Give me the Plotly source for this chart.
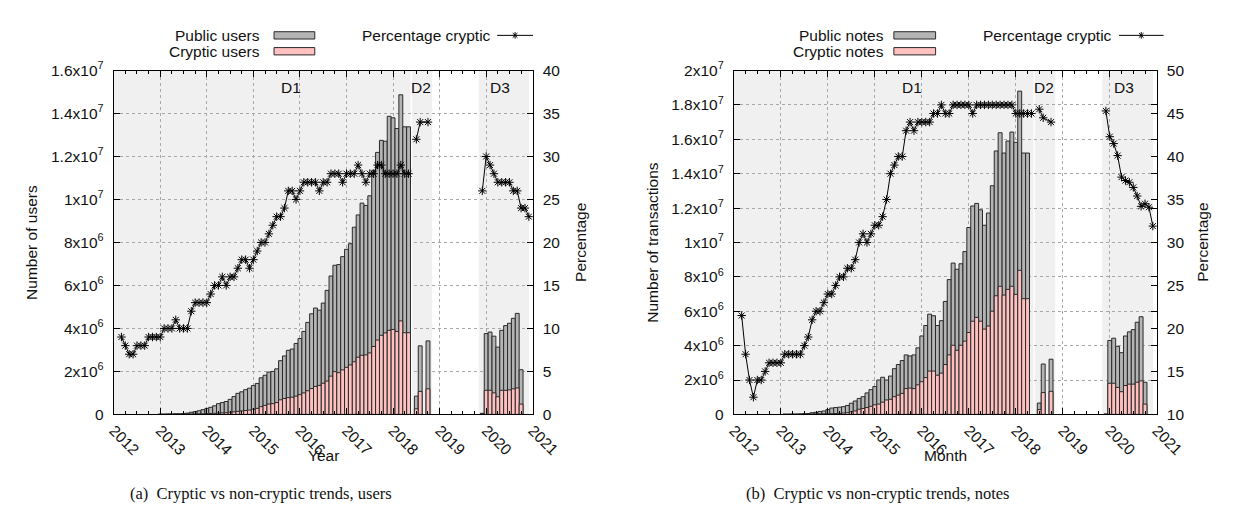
import plotly.graph_objects as go

W, H = 1235, 510

# ------------------------------------------------------------------ data
year_ticks = [2012, 2013, 2014, 2015, 2016, 2017, 2018, 2019, 2020, 2021]
year_labels = [str(y) for y in year_ticks]

# periods (decimal years) of the three collection windows
period_names = ["D1", "D2", "D3"]
period_start = [2012.0, 2018.41, 2019.84]
period_end = [2018.375, 2018.84, 2020.92]
period_label_x = [2015.8, 2018.6, 2020.3]

# ---- users (values in millions) ----
users_d1_start = "2013-01"
public_users_d1 = [0.01, 0.01, 0.02, 0.02, 0.03, 0.03,
                   0.04, 0.06, 0.10, 0.13, 0.17, 0.22, 0.28, 0.33, 0.40, 0.50,
                   0.55, 0.60, 0.70, 0.83, 0.98, 1.05, 1.15, 1.22, 1.34, 1.44,
                   1.70, 1.82, 1.97, 2.00, 2.12, 2.50, 2.72, 2.98, 3.04, 3.30,
                   3.53, 3.86, 4.28, 4.68, 4.95, 4.85, 5.18, 5.77, 6.44, 6.94,
                   6.97, 7.34, 7.68, 7.94, 8.71, 9.28, 9.83, 9.72, 10.17, 11.36,
                   12.19, 12.75, 12.71, 13.87, 13.80, 13.30, 14.87, 13.38, 13.38]
cryptic_users_d1 = [0.002, 0.002, 0.003, 0.003, 0.004, 0.004,
                    0.005, 0.008, 0.01, 0.015, 0.02, 0.025, 0.03, 0.04, 0.05, 0.06,
                    0.07, 0.08, 0.10, 0.12, 0.14, 0.16, 0.18, 0.20, 0.24, 0.28,
                    0.36, 0.42, 0.48, 0.50, 0.55, 0.68, 0.74, 0.78, 0.80, 0.85,
                    0.92, 1.00, 1.10, 1.20, 1.30, 1.35, 1.45, 1.55, 1.78, 1.99,
                    1.94, 2.07, 2.19, 2.30, 2.45, 2.66, 2.75, 2.77, 2.86, 3.16,
                    3.46, 3.68, 3.79, 3.91, 3.95, 3.86, 4.35, 3.80, 3.80]
users_d2_months = ["2018-07", "2018-08", "2018-10"]
public_users_d2 = [0.85, 3.19, 3.42]
cryptic_users_d2 = [0.26, 1.07, 1.19]
users_d3_months = ["2019-12", "2020-01", "2020-02", "2020-03", "2020-04", "2020-05",
                   "2020-06", "2020-07", "2020-08", "2020-09", "2020-10"]
public_users_d3 = [0.05, 3.76, 3.83, 3.64, 3.13, 3.91, 4.13, 4.24, 4.47, 4.70, 2.08]
cryptic_users_d3 = [0.01, 1.12, 1.12, 1.00, 0.82, 1.12, 1.12, 1.14, 1.19, 1.23, 0.48]

users_pct_d1_start = "2012-03"
users_pct_d1 = [9, 8, 7, 7, 8, 8, 8, 9, 9, 9,
                9, 10, 10, 10, 11, 10, 10, 10, 12, 13,
                13, 13, 13, 14, 15, 15, 16, 15, 16, 16,
                17, 18, 18, 17, 18, 19, 20, 20, 21, 22,
                23, 23, 24, 26, 26, 25, 26, 27, 27, 27,
                27, 26, 27, 27, 28, 28, 28, 27, 28, 28,
                28, 29, 28, 27, 28, 28, 29, 29, 28, 28,
                28, 28, 29, 28, 28]
users_pct_d2_months = ["2018-07", "2018-08", "2018-10"]
users_pct_d2 = [32, 34, 34]
users_pct_d3_start = "2019-12"
users_pct_d3 = [26, 30, 29, 28, 27, 27, 27, 27, 26, 26, 24, 24, 23]

# ---- notes / transactions (values in millions) ----
notes_d1_start = "2013-02"
public_notes_d1 = [0.01, 0.01, 0.02, 0.02, 0.03, 0.04,
                   0.05, 0.10, 0.12, 0.17, 0.20, 0.28, 0.37, 0.40, 0.42, 0.45,
                   0.52, 0.65, 0.78, 0.93, 1.03, 1.25, 1.44, 1.62, 2.00, 2.16,
                   2.00, 2.23, 2.66, 2.90, 3.13, 3.46, 3.40, 3.46, 3.87, 4.56,
                   5.17, 5.83, 5.74, 5.17, 5.45, 6.57, 7.84, 8.80, 8.44, 8.76,
                   9.47, 10.87, 12.12, 12.27, 11.90, 11.00, 11.71, 13.30, 15.32, 16.38,
                   15.20, 15.90, 16.42, 15.82, 18.80, 15.20, 15.20]
cryptic_notes_d1 = [0.002, 0.002, 0.003, 0.003, 0.005, 0.01,
                    0.01, 0.015, 0.02, 0.025, 0.03, 0.035, 0.04, 0.05, 0.06, 0.08,
                    0.10, 0.15, 0.20, 0.30, 0.34, 0.40, 0.47, 0.56, 0.60, 0.71,
                    0.84, 0.88, 1.03, 1.12, 1.22, 1.50, 1.53, 1.50, 1.72, 1.90,
                    2.14, 2.52, 2.52, 2.28, 2.40, 2.90, 3.46, 4.02, 3.73, 4.02,
                    4.26, 4.76, 5.42, 5.64, 5.42, 4.96, 5.14, 6.00, 6.90, 7.45,
                    6.94, 7.27, 7.45, 6.98, 8.38, 6.73, 6.73]
notes_d2_months = ["2018-07", "2018-08", "2018-10"]
public_notes_d2 = [0.66, 2.93, 3.21]
cryptic_notes_d2 = [0.28, 1.27, 1.34]
notes_d3_months = ["2019-12", "2020-01", "2020-02", "2020-03", "2020-04", "2020-05",
                   "2020-06", "2020-07", "2020-08", "2020-09", "2020-10"]
public_notes_d3 = [0.02, 4.30, 4.43, 3.96, 3.59, 4.56, 4.80, 4.93, 5.36, 5.68, 1.87]
cryptic_notes_d3 = [0.01, 1.81, 1.81, 1.57, 1.32, 1.68, 1.76, 1.76, 1.87, 1.95, 0.60]

notes_pct_d1_start = "2012-03"
notes_pct_d1 = [21.5, 17, 14, 12, 14, 14, 15, 16, 16, 16,
                16, 17, 17, 17, 17, 17, 18, 19, 21, 22,
                22, 23, 24, 24, 25, 26, 26, 27, 27, 28,
                30, 31, 30, 31, 32, 32, 33, 35, 38, 39,
                40, 40, 43, 44, 43, 44, 44, 44, 44, 45,
                45, 46, 45, 45, 46, 46, 46, 46, 46, 45,
                46, 46, 46, 46, 46, 46, 46, 46, 46, 46,
                45, 45, 45, 45, 45]
notes_pct_d2_months = ["2018-07", "2018-08", "2018-10"]
notes_pct_d2 = [45.5, 44.5, 44]
notes_pct_d3_start = "2019-12"
notes_pct_d3 = [45.3, 42.3, 41.5, 40.1, 37.6, 37.2, 37.0, 36.4, 35.4, 34.2, 34.5, 34.1, 31.9]

users_ticks = [0, 2e6, 4e6, 6e6, 8e6, 1e7, 1.2e7, 1.4e7, 1.6e7]
users_tick_text = ["0", "2x10<sup>6</sup>", "4x10<sup>6</sup>", "6x10<sup>6</sup>", "8x10<sup>6</sup>",
                   "1x10<sup>7</sup>", "1.2x10<sup>7</sup>", "1.4x10<sup>7</sup>", "1.6x10<sup>7</sup>"]
notes_ticks = [0, 2e6, 4e6, 6e6, 8e6, 1e7, 1.2e7, 1.4e7, 1.6e7, 1.8e7, 2e7]
notes_tick_text = ["0", "2x10<sup>6</sup>", "4x10<sup>6</sup>", "6x10<sup>6</sup>", "8x10<sup>6</sup>",
                   "1x10<sup>7</sup>", "1.2x10<sup>7</sup>", "1.4x10<sup>7</sup>", "1.6x10<sup>7</sup>",
                   "1.8x10<sup>7</sup>", "2x10<sup>7</sup>"]
users_pct_ticks = [0, 5, 10, 15, 20, 25, 30, 35, 40]
notes_pct_ticks = [10, 15, 20, 25, 30, 35, 40, 45, 50]


# ------------------------------------------------------------------ helpers
def month_pos(label):
    y, m = label.split("-")
    return int(y) + (int(m) - 1) / 12.0


def months_from(start, n):
    y, m = (int(v) for v in start.split("-"))
    out = []
    for _ in range(n):
        out.append(f"{y:04d}-{m:02d}")
        m += 1
        if m > 12:
            m = 1
            y += 1
    return out


def join_segments(segments):
    xs, ys = [], []
    for k, (months, vals) in enumerate(segments):
        if k:
            xs.append(None)
            ys.append(None)
        xs += [month_pos(mm) for mm in months]
        ys += list(vals)
    return xs, ys


FONT = "Liberation Sans, Arial, sans-serif"
FS = 15.5
GRAY = "#b4b4b4"
PINK = "#ffc0c0"
BAND = "#f0f0f0"
EDGE = "#2a2a2a"
TXT = "#111111"


def px(x):
    return x / W


def py(y):
    return 1 - y / H


fig = go.Figure()

panels = [
    dict(xa="x", ya="y", ya2="y2",
         months=[months_from(users_d1_start, len(public_users_d1)), users_d2_months, users_d3_months],
         public=[public_users_d1, public_users_d2, public_users_d3],
         cryptic=[cryptic_users_d1, cryptic_users_d2, cryptic_users_d3],
         pct=[(months_from(users_pct_d1_start, len(users_pct_d1)), users_pct_d1),
              (users_pct_d2_months, users_pct_d2),
              (months_from(users_pct_d3_start, len(users_pct_d3)), users_pct_d3)]),
    dict(xa="x2", ya="y3", ya2="y4",
         months=[months_from(notes_d1_start, len(public_notes_d1)), notes_d2_months, notes_d3_months],
         public=[public_notes_d1, public_notes_d2, public_notes_d3],
         cryptic=[cryptic_notes_d1, cryptic_notes_d2, cryptic_notes_d3],
         pct=[(months_from(notes_pct_d1_start, len(notes_pct_d1)), notes_pct_d1),
              (notes_pct_d2_months, notes_pct_d2),
              (months_from(notes_pct_d3_start, len(notes_pct_d3)), notes_pct_d3)]),
]

for p in panels:
    mx = [month_pos(m) for seg in p["months"] for m in seg]
    pub = [v * 1e6 for seg in p["public"] for v in seg]
    cry = [v * 1e6 for seg in p["cryptic"] for v in seg]
    fig.add_trace(go.Bar(x=mx, y=pub, width=1 / 12, xaxis=p["xa"], yaxis=p["ya"],
                         marker=dict(color=GRAY, line=dict(color=EDGE, width=1)),
                         showlegend=False))
    fig.add_trace(go.Bar(x=mx, y=cry, width=1 / 12, xaxis=p["xa"], yaxis=p["ya"],
                         marker=dict(color=PINK, line=dict(color=EDGE, width=1)),
                         showlegend=False))
    lx, ly = join_segments(p["pct"])
    fig.add_trace(go.Scatter(x=lx, y=ly, xaxis=p["xa"], yaxis=p["ya2"], mode="lines+markers",
                             connectgaps=False,
                             line=dict(color="black", width=1),
                             marker=dict(symbol="asterisk-open", size=7,
                                         line=dict(color="black", width=1)),
                             showlegend=False))

# ------------------------------------------------------------------ axes
YDOM = [py(410.7), py(53.5)]
common_x = dict(range=[2012, 2021], tickvals=year_ticks, ticktext=year_labels, tickangle=45,
                ticks="inside", ticklen=6, tickcolor="black", showline=True, linecolor="black",
                mirror="ticks", showgrid=True, gridcolor="#a8a8a8", griddash="dot", gridwidth=1,
                zeroline=False, tickfont=dict(family=FONT, size=FS, color=TXT),
                minor=dict(dtick=0.25, tick0=2012, ticks="inside", ticklen=3, tickcolor="black",
                           showgrid=False))
common_y = dict(ticks="inside", ticklen=6, tickcolor="black", showline=True, linecolor="black",
                mirror="ticks", showgrid=True, gridcolor="#a8a8a8", griddash="dot", gridwidth=1,
                zeroline=False, tickfont=dict(family=FONT, size=FS, color=TXT),
                ticklabelstandoff=6)
common_y2 = dict(ticks="inside", ticklen=6, tickcolor="black", showline=False, showgrid=False,
                 zeroline=False, side="right", tickfont=dict(family=FONT, size=FS, color=TXT),
                 ticklabelstandoff=9)

fig.update_layout(
    xaxis=dict(domain=[px(100.7), px(532.7)], anchor="y", **common_x),
    xaxis2=dict(domain=[px(740), px(1176)], anchor="y3", **common_x),
    yaxis=dict(domain=YDOM, anchor="x", range=[0, 1.6e7], tickvals=users_ticks,
               ticktext=users_tick_text, **common_y),
    yaxis2=dict(overlaying="y", anchor="x", range=[0, 40], tickvals=users_pct_ticks, **common_y2),
    yaxis3=dict(domain=YDOM, anchor="x2", range=[0, 2e7], tickvals=notes_ticks,
                ticktext=notes_tick_text, **common_y),
    yaxis4=dict(overlaying="y3", anchor="x2", range=[10, 50], tickvals=notes_pct_ticks, **common_y2),
    barmode="overlay",
    width=W, height=H, autosize=False,
    margin=dict(l=0, r=0, t=0, b=0),
    paper_bgcolor="white", plot_bgcolor="white",
    font=dict(family=FONT, size=FS, color=TXT),
    showlegend=False,
)

shapes = []
annotations = []

# shaded collection windows + labels
for xa, ya in (("x", "y"), ("x2", "y3")):
    for name, s, e, lxp in zip(period_names, period_start, period_end, period_label_x):
        shapes.append(dict(type="rect", xref=xa, yref=f"{ya} domain", x0=s, x1=e, y0=0, y1=1,
                           fillcolor=BAND, line=dict(width=0), layer="below"))
        annotations.append(dict(text=name, xref=xa, yref=f"{ya} domain", x=lxp, y=0.952,
                                showarrow=False, font=dict(family=FONT, size=FS, color=TXT),
                                xanchor="center", yanchor="middle"))


def legend_box(x0, x1, yc, color):
    shapes.append(dict(type="rect", xref="paper", yref="paper", x0=px(x0), x1=px(x1),
                       y0=py(yc + 3.8), y1=py(yc - 3.8), fillcolor=color,
                       line=dict(color=EDGE, width=1)))


def legend_line(x0, x1, yc):
    shapes.append(dict(type="line", xref="paper", yref="paper", x0=px(x0), x1=px(x1),
                       y0=py(yc), y1=py(yc), line=dict(color="black", width=1)))
    cx, r, d = (x0 + x1) / 2, 3.4, 2.4
    for ax, ay, bx, by in ((cx, yc - r, cx, yc + r), (cx - d, yc - d, cx + d, yc + d),
                           (cx - d, yc + d, cx + d, yc - d)):
        shapes.append(dict(type="line", xref="paper", yref="paper", x0=px(ax), x1=px(bx),
                           y0=py(ay), y1=py(by), line=dict(color="black", width=1)))


def text(t, x, y, anchor="center", size=FS, angle=0, family=FONT):
    annotations.append(dict(text=t, xref="paper", yref="paper", x=px(x), y=py(y), showarrow=False,
                            xanchor=anchor, yanchor="middle", textangle=angle,
                            font=dict(family=family, size=size, color=TXT)))


# legends
text("Public users", 254, 17, "right")
legend_box(266, 308, 17, GRAY)
text("Cryptic users", 254, 33.5, "right")
legend_box(266, 308, 33.5, PINK)
text("Percentage cryptic", 492, 17, "right")
legend_line(496, 533, 17)

text("Public notes", 897, 17, "right")
legend_box(905, 948, 17, GRAY)
text("Cryptic notes", 897, 33.5, "right")
legend_box(905, 948, 33.5, PINK)
text("Percentage cryptic", 1132, 17, "right")
legend_line(1137, 1183, 17)

# axis titles
text("Number of users", 16, 232, angle=-90)
text("Percentage", 582, 232, angle=-90)
text("Year", 316.7, 453)
text("Number of transactions", 656, 232, angle=-90)
text("Percentage", 1223, 232, angle=-90)
text("Month", 958, 453)

# captions
SERIF = "Liberation Serif, DejaVu Serif, serif"
text("(a)&nbsp; Cryptic vs non-cryptic trends, users", 253, 493, size=16.5, family=SERIF)
text("(b)&nbsp; Cryptic vs non-cryptic trends, notes", 888, 493, size=16.5, family=SERIF)

fig.update_layout(shapes=shapes, annotations=annotations)
fig.write_html("out.html")
